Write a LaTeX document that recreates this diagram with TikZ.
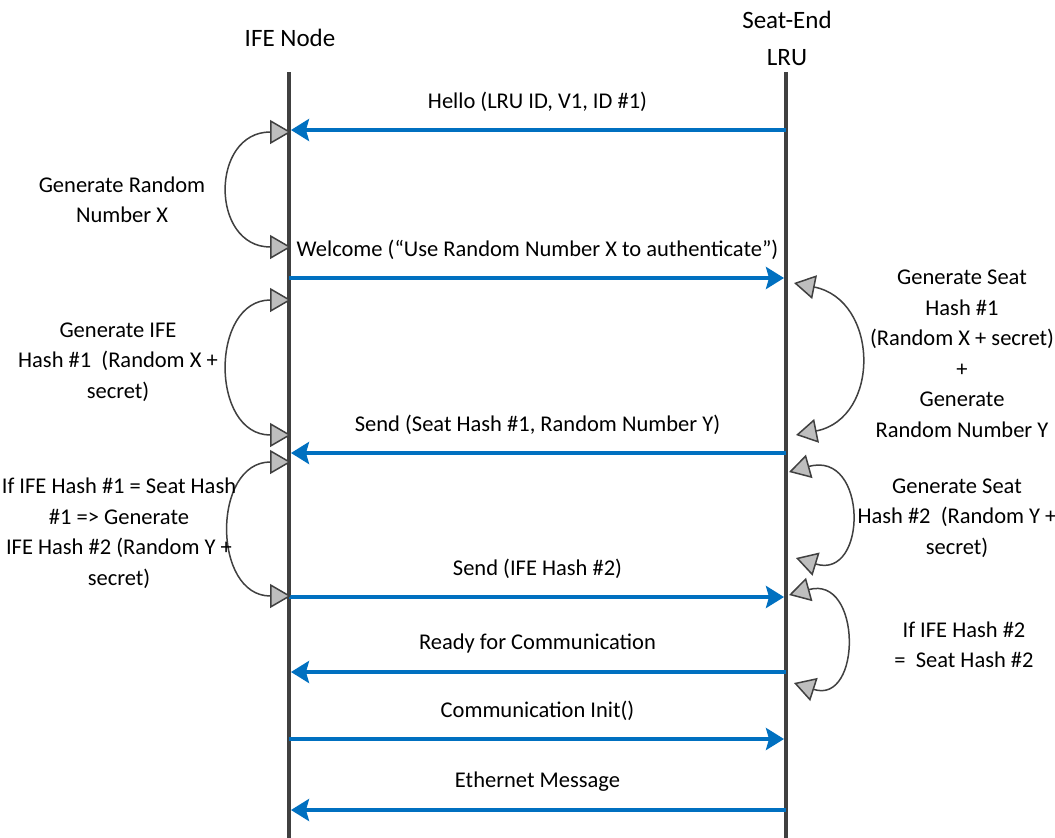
\documentclass[tikz,border=0pt]{standalone}
\usepackage{fontspec}
\setmainfont{Carlito}
\usetikzlibrary{arrows.meta}
\definecolor{msgblue}{RGB}{0,112,192}
\definecolor{lifegray}{RGB}{64,64,64}
\definecolor{arcgray}{RGB}{64,64,64}
\definecolor{tipfill}{RGB}{190,190,190}

\begin{document}
\begin{tikzpicture}[x=1pt,y=-1pt,
  lifeline/.style={line width=4.5pt, draw=lifegray},
  msg/.style={line width=3.5pt, draw=msgblue, shorten >=2pt,
    -{Stealth[length=18pt,width=22pt,inset=3pt]}},
  msglabel/.style={font=\fontsize{22.5}{26}\selectfont, inner sep=0pt, yshift=28.5pt},
  selfarc/.style={line width=1.5pt, draw=arcgray,
    {Triangle[length=21pt,width=24pt,fill=tipfill]}-{Triangle[length=21pt,width=24pt,fill=tipfill]}},
  note/.style={font=\fontsize{22.5}{30.5}\selectfont, align=center, inner sep=0pt},
  head/.style={font=\fontsize{25}{37}\selectfont, align=center, inner sep=0pt}]

\useasboundingbox[fill=white] (0,0) rectangle (1055,838);

% participants
\node[head] (ife)  at (290,38) {IFE Node};
\node[head] (seat) at (787,38) {Seat-End\\LRU};

\coordinate (ifeTop)  at (289,72);
\coordinate (ifeBot)  at (289,838);
\coordinate (seatTop) at (786,72);
\coordinate (seatBot) at (786,838);
\draw[lifeline] (ifeTop) -- (ifeBot);
\draw[lifeline] (seatTop) -- (seatBot);

% message anchor points on the lifelines
\coordinate (i1) at (289,130); \coordinate (s1) at (786,130);
\coordinate (i2) at (289,278); \coordinate (s2) at (786,278);
\coordinate (i3) at (289,453); \coordinate (s3) at (786,453);
\coordinate (i4) at (289,597); \coordinate (s4) at (786,597);
\coordinate (i5) at (289,672); \coordinate (s5) at (786,672);
\coordinate (i6) at (289,739); \coordinate (s6) at (786,739);
\coordinate (i7) at (289,810); \coordinate (s7) at (786,810);

% messages
\draw[msg] (s1) -- node[msglabel] (l1) {Hello (LRU ID, V1, ID \#1)} (i1);
\draw[msg] (i2) -- node[msglabel] (l2) {Welcome (“Use Random Number X to authenticate”)} (s2);
\draw[msg] (s3) -- node[msglabel] (l3) {Send (Seat Hash \#1, Random Number Y)} (i3);
\draw[msg] (i4) -- node[msglabel] (l4) {Send (IFE Hash \#2)} (s4);
\draw[msg] (s5) -- node[msglabel] (l5) {Ready for Communication} (i5);
\draw[msg] (i6) -- node[msglabel] (l6) {Communication Init()} (s6);
\draw[msg] (s7) -- node[msglabel] (l7) {Ethernet Message} (i7);

% local processing loops on the IFE node
\coordinate (ia1) at (291,132); \coordinate (ib1) at (291,247);
\coordinate (ia2) at (291,300); \coordinate (ib2) at (291,435);
\coordinate (ia3) at (291,462); \coordinate (ib3) at (291,596);
\draw[selfarc] (ia1) .. controls (210,132) and (210,247) .. (ib1);
\draw[selfarc] (ia2) .. controls (210,300) and (210,435) .. (ib2);
\draw[selfarc] (ia3) .. controls (212,462) and (212,596) .. (ib3);

% local processing loops on the seat-end LRU
\coordinate (sa1) at (794,283); \coordinate (sb1) at (796,435);
\coordinate (sa2) at (789,472); \coordinate (sb2) at (796,558);
\coordinate (sa3) at (789,595); \coordinate (sb3) at (794,683);
\draw[selfarc] (sa1) .. controls (879,300) and (881,418) .. (sb1);
\draw[selfarc] (sa2) .. controls (868,450) and (868,580) .. (sb2);
\draw[selfarc] (sa3) .. controls (862,575) and (862,705) .. (sb3);

% notes
\node[note] (n1) at (122,200) {Generate Random\\Number X};
\node[note] (n2) at (118,362) {Generate IFE\\Hash \#1~ (Random X +\\secret)};
\node[note] (n3) at (119,533) {If IFE Hash \#1 = Seat Hash\\\#1 => Generate\\IFE Hash \#2 (Random Y +\\secret)};
\node[note] (n4) at (962,354) {Generate Seat\\Hash \#1\\(Random X + secret)\\+\\Generate\\Random Number Y};
\node[note] (n5) at (957,518) {Generate Seat\\Hash \#2~ (Random Y +\\secret)};
\node[note] (n6) at (964,645) {If IFE Hash \#2\\=~ Seat Hash \#2};
\end{tikzpicture}
\end{document}
